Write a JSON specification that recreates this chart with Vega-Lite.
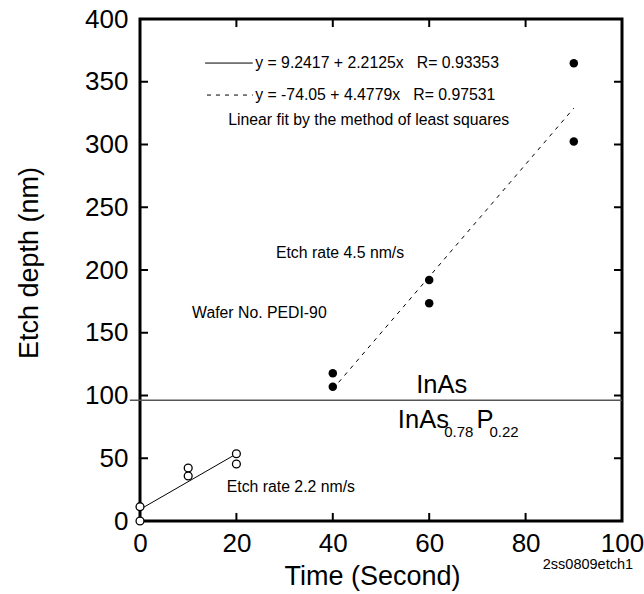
{
  "$schema": "https://vega.github.io/schema/vega-lite/v6.json",
  "width": 482,
  "height": 502,
  "autosize": "none",
  "padding": {"left": 140, "top": 19, "right": 22, "bottom": 73},
  "background": "white",
  "config": {
    "font": "Liberation Sans",
    "view": {"stroke": "black", "strokeWidth": 3},
    "axis": {
      "domain": false,
      "grid": false,
      "ticks": false,
      "labelFont": "Liberation Sans",
      "labelFontSize": 26,
      "labelColor": "black",
      "labelFlush": false,
      "labelOverlap": false,
      "titleFont": "Liberation Sans",
      "titleFontSize": 27,
      "titleFontWeight": "normal",
      "titleColor": "black"
    }
  },
  "datasets": {
    "hline": [{"t": -2.1, "t2": 100, "d": 96.2}],
    "bottomticks": [{"t": 20, "d": 0, "d2": 6.4}, {"t": 40, "d": 0, "d2": 6.4}, {"t": 60, "d": 0, "d2": 6.4}, {"t": 80, "d": 0, "d2": 6.4}],
    "topticks": [{"t": 20, "d": 400, "d2": 393.6}, {"t": 40, "d": 400, "d2": 393.6}, {"t": 60, "d": 400, "d2": 393.6}, {"t": 80, "d": 400, "d2": 393.6}],
    "leftticks": [
      {"t": 0, "t2": 1.66, "d": 50}, {"t": 0, "t2": 1.66, "d": 100}, {"t": 0, "t2": 1.66, "d": 150}, {"t": 0, "t2": 1.66, "d": 200},
      {"t": 0, "t2": 1.66, "d": 250}, {"t": 0, "t2": 1.66, "d": 300}, {"t": 0, "t2": 1.66, "d": 350}
    ],
    "rightticks": [
      {"t": 100, "t2": 98.34, "d": 50}, {"t": 100, "t2": 98.34, "d": 100}, {"t": 100, "t2": 98.34, "d": 150}, {"t": 100, "t2": 98.34, "d": 200},
      {"t": 100, "t2": 98.34, "d": 250}, {"t": 100, "t2": 98.34, "d": 300}, {"t": 100, "t2": 98.34, "d": 350}
    ],
    "solidfit": [
      {"t": 0, "d": 9.24, "k": "fit"},
      {"t": 20, "d": 53.49, "k": "fit"},
      {"t": 13.5, "d": 364.9, "k": "key"},
      {"t": 23.4, "d": 364.9, "k": "key"}
    ],
    "dashfit": [
      {"t": 40, "d": 105.07, "k": "fit"},
      {"t": 90, "d": 328.96, "k": "fit"},
      {"t": 13.9, "d": 339.4, "k": "key"},
      {"t": 23.4, "d": 339.4, "k": "key"}
    ],
    "open": [
      {"t": 0, "d": 0},
      {"t": 0, "d": 11.4},
      {"t": 10, "d": 42.2},
      {"t": 10, "d": 35.9},
      {"t": 20, "d": 53.6},
      {"t": 20, "d": 45.4}
    ],
    "filled": [
      {"t": 40, "d": 117.7},
      {"t": 40, "d": 107.0},
      {"t": 60, "d": 192.1},
      {"t": 60, "d": 173.5},
      {"t": 90, "d": 364.8},
      {"t": 90, "d": 302.3}
    ],
    "notes": [
      {"t": 23.9, "d": 364.9, "label": "y = 9.2417 + 2.2125x\u00a0\u00a0\u00a0R= 0.93353"},
      {"t": 23.9, "d": 339.4, "label": "y = -74.05 + 4.4779x\u00a0\u00a0\u00a0R= 0.97531"},
      {"t": 18.3, "d": 319.5, "label": "Linear fit by the method of least squares"},
      {"t": 28.2, "d": 213.8, "label": "Etch rate 4.5 nm/s"},
      {"t": 10.8, "d": 166.0, "label": "Wafer No. PEDI-90"},
      {"t": 18.0, "d": 27.3, "label": "Etch rate 2.2 nm/s"}
    ],
    "big": [
      {"t": 57.3, "d": 102.0, "label": "InAs"},
      {"t": 53.5, "d": 73.9, "label": "InAs"},
      {"t": 69.8, "d": 73.9, "label": "P"}
    ],
    "subs": [
      {"t": 63.1, "d": 66.7, "label": "0.78"},
      {"t": 72.5, "d": 66.7, "label": "0.22"}
    ],
    "code": [
      {"t": 102.3, "d": -35.1, "label": "2ss0809etch1"}
    ]
  },
  "layer": [
    {
      "data": {"name": "hline"},
      "mark": {"type": "rule", "color": "#555555", "strokeWidth": 1.5},
      "encoding": {
        "x": {
          "field": "t", "type": "quantitative",
          "scale": {"domain": [0, 100], "nice": false},
          "axis": {
            "values": [0, 20, 40, 60, 80, 100],
            "title": "Time (Second)",
            "labelPadding": 9,
            "labelBaseline": "top",
            "titleX": 232,
            "titleY": 63,
            "titleBaseline": "alphabetic",
            "titleAlign": "center"
          }
        },
        "x2": {"field": "t2"},
        "y": {
          "field": "d", "type": "quantitative",
          "scale": {"domain": [0, 400], "nice": false},
          "axis": {
            "values": [0, 50, 100, 150, 200, 250, 300, 350, 400],
            "title": "Etch depth (nm)",
            "labelPadding": 12,
            "titleX": -103,
            "titleY": 243.5,
            "titleAngle": -90,
            "titleBaseline": "alphabetic",
            "titleAlign": "center"
          }
        }
      }
    },
    {
      "data": {"name": "bottomticks"},
      "mark": {"type": "rule", "color": "#000000", "strokeWidth": 2},
      "encoding": {
        "x": {"field": "t", "type": "quantitative"},
        "y": {"field": "d", "type": "quantitative"},
        "y2": {"field": "d2"}
      }
    },
    {
      "data": {"name": "topticks"},
      "mark": {"type": "rule", "color": "#000000", "strokeWidth": 2},
      "encoding": {
        "x": {"field": "t", "type": "quantitative"},
        "y": {"field": "d", "type": "quantitative"},
        "y2": {"field": "d2"}
      }
    },
    {
      "data": {"name": "leftticks"},
      "mark": {"type": "rule", "color": "#000000", "strokeWidth": 2},
      "encoding": {
        "x": {"field": "t", "type": "quantitative"},
        "x2": {"field": "t2"},
        "y": {"field": "d", "type": "quantitative"}
      }
    },
    {
      "data": {"name": "rightticks"},
      "mark": {"type": "rule", "color": "#000000", "strokeWidth": 2},
      "encoding": {
        "x": {"field": "t", "type": "quantitative"},
        "x2": {"field": "t2"},
        "y": {"field": "d", "type": "quantitative"}
      }
    },
    {
      "data": {"name": "solidfit"},
      "mark": {"type": "line", "color": "black", "strokeWidth": 1},
      "encoding": {
        "x": {"field": "t", "type": "quantitative"},
        "y": {"field": "d", "type": "quantitative"},
        "detail": {"field": "k"}
      }
    },
    {
      "data": {"name": "dashfit"},
      "mark": {"type": "line", "color": "black", "strokeWidth": 1, "strokeDash": [4, 5]},
      "encoding": {
        "x": {"field": "t", "type": "quantitative"},
        "y": {"field": "d", "type": "quantitative"},
        "detail": {"field": "k"}
      }
    },
    {
      "data": {"name": "open"},
      "mark": {"type": "point", "shape": "circle", "filled": false, "fill": "white", "fillOpacity": 1, "stroke": "black", "strokeWidth": 1.3, "size": 62, "opacity": 1},
      "encoding": {
        "x": {"field": "t", "type": "quantitative"},
        "y": {"field": "d", "type": "quantitative"}
      }
    },
    {
      "data": {"name": "filled"},
      "mark": {"type": "circle", "color": "black", "size": 72, "opacity": 1},
      "encoding": {
        "x": {"field": "t", "type": "quantitative"},
        "y": {"field": "d", "type": "quantitative"}
      }
    },
    {
      "data": {"name": "notes"},
      "mark": {"type": "text", "align": "left", "baseline": "middle", "fontSize": 15.8, "color": "black", "font": "Liberation Sans"},
      "encoding": {
        "x": {"field": "t", "type": "quantitative"},
        "y": {"field": "d", "type": "quantitative"},
        "text": {"field": "label"}
      }
    },
    {
      "data": {"name": "big"},
      "mark": {"type": "text", "align": "left", "baseline": "alphabetic", "fontSize": 25.5, "color": "black", "font": "Liberation Sans"},
      "encoding": {
        "x": {"field": "t", "type": "quantitative"},
        "y": {"field": "d", "type": "quantitative"},
        "text": {"field": "label"}
      }
    },
    {
      "data": {"name": "subs"},
      "mark": {"type": "text", "align": "left", "baseline": "alphabetic", "fontSize": 15, "color": "black", "font": "Liberation Sans"},
      "encoding": {
        "x": {"field": "t", "type": "quantitative"},
        "y": {"field": "d", "type": "quantitative"},
        "text": {"field": "label"}
      }
    },
    {
      "data": {"name": "code"},
      "mark": {"type": "text", "align": "right", "baseline": "middle", "fontSize": 14.5, "color": "black", "font": "Liberation Sans"},
      "encoding": {
        "x": {"field": "t", "type": "quantitative"},
        "y": {"field": "d", "type": "quantitative"},
        "text": {"field": "label"}
      }
    }
  ]
}
